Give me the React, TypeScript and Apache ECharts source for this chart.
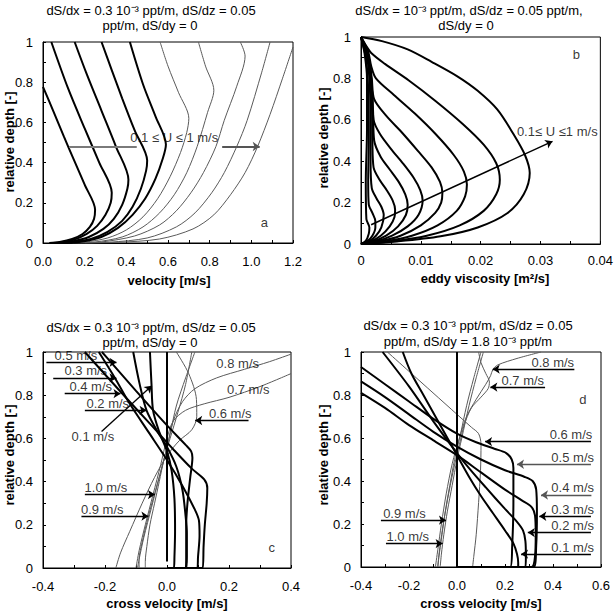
import React, { useEffect, useRef } from 'react';
import * as echarts from 'echarts';

const FONT = '"Liberation Sans", Arial, Helvetica, sans-serif';

// ---------- data ----------
const depthTickLabels = ['0', '0.2', '0.4', '0.6', '0.8', '1'];

// panel a: velocity profiles, U = 0.1 ... 1.0 m/s  ([velocity, relative depth])
const velocityProfiles: number[][][] = [
  [[0.03, 0], [0.08, 0.005], [0.14, 0.02], [0.19, 0.045], [0.225, 0.08], [0.245, 0.12], [0.25, 0.165], [0.2, 0.29], [0.15, 0.41], [0.1, 0.53], [0.05, 0.655], [0, 0.777]],
  [[0.05, 0], [0.09, 0.004], [0.15, 0.017], [0.21, 0.045], [0.26, 0.085], [0.3, 0.14], [0.325, 0.2], [0.33, 0.25], [0.27, 0.4], [0.2, 0.57], [0.12, 0.77], [0.04, 1]],
  [[0.07, 0], [0.14, 0.008], [0.22, 0.03], [0.29, 0.07], [0.34, 0.12], [0.38, 0.19], [0.405, 0.27], [0.41, 0.315], [0.35, 0.48], [0.28, 0.66], [0.21, 0.84], [0.152, 1]],
  [[0.08, 0], [0.14, 0.004], [0.23, 0.02], [0.31, 0.055], [0.38, 0.11], [0.43, 0.18], [0.47, 0.27], [0.495, 0.36], [0.5, 0.41], [0.44, 0.56], [0.38, 0.72], [0.33, 0.86], [0.281, 1]],
  [[0.1, 0], [0.18, 0.006], [0.28, 0.03], [0.36, 0.075], [0.43, 0.14], [0.49, 0.22], [0.54, 0.32], [0.575, 0.42], [0.59, 0.49], [0.54, 0.63], [0.48, 0.79], [0.417, 1]],
  [[0.12, 0], [0.2, 0.004], [0.31, 0.025], [0.4, 0.065], [0.48, 0.13], [0.55, 0.22], [0.61, 0.33], [0.66, 0.45], [0.69, 0.55], [0.7, 0.62], [0.65, 0.75], [0.6, 0.88], [0.562, 1]],
  [[0.14, 0], [0.25, 0.005], [0.38, 0.03], [0.48, 0.08], [0.56, 0.15], [0.63, 0.24], [0.69, 0.35], [0.74, 0.48], [0.79, 0.65], [0.82, 0.76], [0.78, 0.88], [0.746, 1]],
  [[0.16, 0], [0.28, 0.005], [0.44, 0.035], [0.56, 0.09], [0.64, 0.16], [0.71, 0.25], [0.77, 0.35], [0.83, 0.48], [0.87, 0.61], [0.93, 0.78], [0.97, 0.93], [0.947, 1]],
  [[0.18, 0], [0.32, 0.004], [0.5, 0.025], [0.64, 0.08], [0.73, 0.15], [0.81, 0.25], [0.87, 0.35], [0.93, 0.48], [0.98, 0.61], [1.05, 0.85], [1.09, 1]],
  [[0.2, 0], [0.35, 0.003], [0.56, 0.02], [0.72, 0.07], [0.82, 0.14], [0.9, 0.24], [0.97, 0.35], [1.03, 0.48], [1.09, 0.64], [1.15, 0.82], [1.2, 0.975]],
];

// panel b: eddy viscosity profiles ([viscosity m2/s, relative depth])
const viscosityProfiles: number[][][] = [
  [[0, 0], [0.0008, 0.015], [0.0013, 0.05], [0.0014, 0.08], [0.0009, 0.12], [0.0008, 0.3], [0.001, 0.55], [0.001, 0.8], [0.0006, 0.92], [0, 1]],
  [[0, 0], [0.001, 0.012], [0.0019, 0.04], [0.0024, 0.08], [0.0024, 0.11], [0.0019, 0.15], [0.0013, 0.19], [0.0012, 0.3], [0.0013, 0.5], [0.0012, 0.75], [0.0008, 0.9], [0, 1]],
  [[0, 0], [0.0013, 0.012], [0.0025, 0.04], [0.0034, 0.08], [0.0038, 0.14], [0.0034, 0.18], [0.0026, 0.22], [0.0018, 0.27], [0.0016, 0.4], [0.0016, 0.6], [0.0014, 0.8], [0.0009, 0.92], [0, 1]],
  [[0, 0], [0.0016, 0.012], [0.0033, 0.04], [0.0048, 0.085], [0.0056, 0.13], [0.0057, 0.166], [0.0053, 0.21], [0.0043, 0.26], [0.0031, 0.31], [0.0021, 0.37], [0.0019, 0.5], [0.0018, 0.7], [0.0013, 0.88], [0, 1]],
  [[0, 0], [0.002, 0.012], [0.0042, 0.04], [0.0062, 0.085], [0.0075, 0.14], [0.0078, 0.19], [0.0074, 0.24], [0.0063, 0.3], [0.0048, 0.36], [0.0033, 0.42], [0.0022, 0.5], [0.002, 0.65], [0.0015, 0.85], [0, 1]],
  [[0, 0], [0.0025, 0.012], [0.0052, 0.04], [0.0078, 0.085], [0.0096, 0.14], [0.0103, 0.21], [0.0099, 0.26], [0.0088, 0.32], [0.007, 0.39], [0.005, 0.46], [0.0032, 0.53], [0.0021, 0.6], [0.0019, 0.72], [0.0014, 0.87], [0, 1]],
  [[0, 0], [0.003, 0.012], [0.0066, 0.04], [0.01, 0.09], [0.0124, 0.15], [0.0134, 0.2], [0.0136, 0.246], [0.0132, 0.3], [0.0118, 0.37], [0.0095, 0.45], [0.0068, 0.54], [0.0042, 0.62], [0.0022, 0.7], [0.0018, 0.8], [0.0013, 0.9], [0, 1]],
  [[0, 0], [0.004, 0.012], [0.0085, 0.04], [0.0128, 0.09], [0.016, 0.16], [0.0174, 0.23], [0.0177, 0.287], [0.0172, 0.35], [0.0155, 0.43], [0.0125, 0.53], [0.009, 0.63], [0.0055, 0.72], [0.0025, 0.8], [0.0017, 0.86], [0.0012, 0.93], [0, 1]],
  [[0, 0], [0.005, 0.012], [0.011, 0.04], [0.0165, 0.09], [0.0205, 0.16], [0.0226, 0.24], [0.0232, 0.31], [0.0226, 0.39], [0.0205, 0.48], [0.017, 0.58], [0.0125, 0.69], [0.008, 0.79], [0.004, 0.87], [0.0018, 0.92], [0.0008, 0.96], [0, 1]],
  [[0, 0], [0.006, 0.012], [0.0133, 0.037], [0.0195, 0.08], [0.0245, 0.15], [0.0272, 0.24], [0.0282, 0.343], [0.0274, 0.43], [0.0255, 0.53], [0.0228, 0.649], [0.0195, 0.74], [0.0161, 0.81], [0.0118, 0.88], [0.0078, 0.94], [0.0035, 0.98], [0, 1]],
];

// panel c: cross velocity, dS/dy = 0
const crossThickC: number[][][] = [
  [[0, 0], [0.022, 0], [0.024, 0.05], [0.026, 0.17], [0.024, 0.32], [0.015, 0.45], [0, 0.54], [-0.025, 0.63], [-0.045, 0.73], [-0.05, 0.85], [-0.055, 1]],
  [[0, 0], [0.062, 0], [0.064, 0.05], [0.064, 0.16], [0.06, 0.24], [0.05, 0.36], [0.03, 0.47], [0, 0.56], [-0.03, 0.63], [-0.066, 0.73], [-0.088, 0.85], [-0.109, 1]],
  [[0, 0], [0.06, 0], [0.062, 0.05], [0.062, 0.2], [0.066, 0.3], [0.075, 0.42], [0.082, 0.51], [0.078, 0.54], [0.06, 0.57], [0, 0.66], [-0.1, 0.82], [-0.179, 0.95], [-0.21, 1]],
  [[0, 0], [0.098, 0], [0.1, 0.05], [0.105, 0.15], [0.103, 0.22], [0.09, 0.27], [0.05, 0.38], [0, 0.5], [-0.06, 0.63], [-0.12, 0.76], [-0.168, 0.88], [-0.22, 1]],
  [[0, 0], [0.115, 0], [0.118, 0.1], [0.122, 0.2], [0.128, 0.3], [0.13, 0.37], [0.12, 0.41], [0.08, 0.46], [0.02, 0.55], [-0.05, 0.66], [-0.146, 0.81], [-0.265, 1]],
];
const crossThinC: number[][][] = [
  [[-0.165, 0], [-0.15, 0.07], [-0.12, 0.17], [-0.08, 0.3], [-0.04, 0.42], [0, 0.52], [0.04, 0.59], [0.08, 0.64], [0.096, 0.7], [0.095, 0.78], [0.07, 0.9], [0.03, 1]],
  [[-0.1, 0], [-0.09, 0.08], [-0.07, 0.2], [-0.045, 0.34], [-0.02, 0.48], [0, 0.6], [0.02, 0.68], [0.06, 0.73], [0.12, 0.76], [0.2, 0.79], [0.3, 0.84], [0.4, 0.9]],
  [[-0.095, 0], [-0.09, 0.04], [-0.075, 0.14], [-0.05, 0.28], [-0.025, 0.42], [0, 0.56], [0.02, 0.68], [0.05, 0.77], [0.09, 0.83], [0.16, 0.88], [0.25, 0.92], [0.33, 0.955], [0.4, 0.99]],
  [[-0.09, 0], [-0.09, 0.04], [-0.08, 0.12], [-0.06, 0.24], [-0.035, 0.37], [-0.01, 0.5], [0.01, 0.62], [0.03, 0.75], [0.06, 0.88], [0.09, 1]],
  [[-0.07, 0], [-0.07, 0.03], [-0.065, 0.1], [-0.055, 0.2], [-0.04, 0.3], [-0.025, 0.4], [-0.01, 0.5], [0.01, 0.6], [0.035, 0.72], [0.06, 0.85], [0.08, 1]],
];

// panel d: cross velocity, dS/dy = 1.8e-3
const crossThickD: number[][][] = [
  [[0, 0], [0.255, 0], [0.255, 0.02], [0.25, 0.06], [0.235, 0.11], [0.2, 0.17], [0.15, 0.25], [0.1, 0.33], [0.05, 0.42], [0, 0.52], [-0.04, 0.6], [-0.09, 0.7], [-0.14, 0.8], [-0.19, 0.9], [-0.226, 1]],
  [[0, 0], [0.285, 0], [0.287, 0.05], [0.285, 0.12], [0.275, 0.17], [0.25, 0.21], [0.2, 0.27], [0.12, 0.37], [0.05, 0.46], [0, 0.53], [-0.1, 0.68], [-0.2, 0.84], [-0.31, 1]],
  [[0, 0], [0.31, 0], [0.325, 0.05], [0.328, 0.15], [0.325, 0.24], [0.31, 0.28], [0.27, 0.31], [0.2, 0.36], [0.1, 0.44], [0, 0.52], [-0.1, 0.59], [-0.2, 0.66], [-0.3, 0.74], [-0.4, 0.81]],
  [[0, 0], [0.32, 0], [0.33, 0.1], [0.333, 0.25], [0.33, 0.36], [0.315, 0.4], [0.28, 0.42], [0.2, 0.45], [0.1, 0.5], [0, 0.56], [-0.1, 0.63], [-0.2, 0.71], [-0.3, 0.79], [-0.4, 0.863]],
  [[0, 0], [0.222, 0], [0.23, 0.1], [0.235, 0.3], [0.235, 0.46], [0.228, 0.5], [0.205, 0.53], [0.156, 0.55], [0.08, 0.58], [0, 0.62], [-0.1, 0.69], [-0.2, 0.77], [-0.3, 0.85], [-0.4, 0.93]],
];
const crossThinD: number[][][] = [
  [[0.065, 0], [0.07, 0.05], [0.08, 0.15], [0.09, 0.3], [0.098, 0.45], [0.1, 0.57], [0.09, 0.62], [0.06, 0.65], [0, 0.71], [-0.1, 0.81], [-0.2, 0.91], [-0.29, 1]],
  [[-0.08, 0], [-0.075, 0.06], [-0.06, 0.18], [-0.04, 0.31], [-0.015, 0.45], [0.01, 0.57], [0.03, 0.66], [0.06, 0.74], [0.1, 0.79], [0.13, 0.83], [0.135, 0.86], [0.12, 0.9], [0.1, 0.95], [0.09, 1]],
  [[-0.09, 0], [-0.08, 0.08], [-0.065, 0.2], [-0.045, 0.34], [-0.02, 0.48], [0.01, 0.6], [0.04, 0.7], [0.08, 0.78], [0.12, 0.85], [0.14, 0.89], [0.15, 0.92], [0.17, 0.94], [0.25, 0.97], [0.35, 1]],
  [[-0.07, 0], [-0.065, 0.06], [-0.055, 0.15], [-0.04, 0.26], [-0.02, 0.38], [0, 0.5], [0.02, 0.6], [0.05, 0.75], [0.08, 0.88], [0.11, 1]],
  [[-0.08, 0], [-0.075, 0.05], [-0.065, 0.13], [-0.05, 0.25], [-0.03, 0.38], [-0.01, 0.5], [0.015, 0.62], [0.04, 0.75], [0.07, 0.88], [0.1, 1]],
];

const zeroLineC = [[0, 0.03], [0, 1]];
const zeroLineD = [[0, 0], [0, 1]];

// ---------- annotations (layout) ----------
type Note = { text: string; x: number; y: number; under?: boolean };
type Arrow = { x1: number; y1: number; x2: number; y2: number; head?: boolean; color?: string; width?: number };

const notesA: Note[] = [
  { text: '0.1 ≤ U ≤ 1 m/s', x: 0.63, y: 0.526 },
  { text: 'a', x: 1.063, y: 0.1 },
];
const arrowsA: Arrow[] = [
  { x1: 0.125, y1: 0.48, x2: 0.45, y2: 0.48, head: false, color: '#7a7a7a', width: 2 },
  { x1: 0.86, y1: 0.48, x2: 1.04, y2: 0.48, head: true, color: '#555', width: 2 },
];
const notesB: Note[] = [
  { text: '0.1≤ U ≤1 m/s', x: 0.0328, y: 0.544 },
  { text: 'b', x: 0.036, y: 0.915 },
];
const arrowsB: Arrow[] = [{ x1: 0.0017, y1: 0.093, x2: 0.032, y2: 0.496, head: true, width: 1.5 }];

const notesC: Note[] = [
  { text: '0.5 m/s', x: -0.294, y: 0.952, under: true },
  { text: '0.3 m/s', x: -0.262, y: 0.88, under: true },
  { text: '0.4 m/s', x: -0.246, y: 0.807, under: true },
  { text: '0.2 m/s', x: -0.191, y: 0.73, under: true },
  { text: '0.1 m/s', x: -0.239, y: 0.609 },
  { text: '0.6 m/s', x: 0.204, y: 0.683, under: true },
  { text: '0.7 m/s', x: 0.262, y: 0.826 },
  { text: '0.8 m/s', x: 0.228, y: 0.949 },
  { text: '1.0 m/s', x: -0.197, y: 0.34, under: true },
  { text: '0.9 m/s', x: -0.209, y: 0.24, under: true },
  { text: 'c', x: 0.338, y: 0.093 },
];
const arrowsC: Arrow[] = [
  { x1: -0.389, y1: 0.952, x2: -0.163, y2: 0.952 },
  { x1: -0.367, y1: 0.88, x2: -0.163, y2: 0.88 },
  { x1: -0.33, y1: 0.807, x2: -0.15, y2: 0.807 },
  { x1: -0.265, y1: 0.73, x2: -0.066, y2: 0.73 },
  { x1: -0.211, y1: 0.632, x2: -0.049, y2: 0.844 },
  { x1: 0.263, y1: 0.683, x2: 0.091, y2: 0.683 },
  { x1: -0.265, y1: 0.34, x2: -0.039, y2: 0.34 },
  { x1: -0.276, y1: 0.24, x2: -0.06, y2: 0.24 },
];
const notesD: Note[] = [
  { text: '0.8 m/s', x: 0.399, y: 0.92, under: true },
  { text: '0.7 m/s', x: 0.274, y: 0.837, under: true },
  { text: '0.6 m/s', x: 0.475, y: 0.583, under: true },
  { text: '0.5 m/s', x: 0.482, y: 0.478, under: true },
  { text: '0.4 m/s', x: 0.482, y: 0.335, under: true },
  { text: '0.3 m/s', x: 0.482, y: 0.236, under: true },
  { text: '0.2 m/s', x: 0.482, y: 0.16, under: true },
  { text: '0.1 m/s', x: 0.482, y: 0.06, under: true },
  { text: '0.9 m/s', x: -0.219, y: 0.218, under: true },
  { text: '1.0 m/s', x: -0.205, y: 0.109, under: true },
  { text: 'd', x: 0.524, y: 0.78 },
];
const arrowsD: Arrow[] = [
  { x1: 0.489, y1: 0.92, x2: 0.149, y2: 0.92 },
  { x1: 0.367, y1: 0.837, x2: 0.139, y2: 0.837 },
  { x1: 0.558, y1: 0.583, x2: 0.117, y2: 0.583 },
  { x1: 0.558, y1: 0.478, x2: 0.25, y2: 0.478, color: '#555' },
  { x1: 0.56, y1: 0.335, x2: 0.35, y2: 0.335, color: '#555' },
  { x1: 0.558, y1: 0.236, x2: 0.343, y2: 0.236 },
  { x1: 0.558, y1: 0.16, x2: 0.295, y2: 0.16 },
  { x1: 0.558, y1: 0.06, x2: 0.267, y2: 0.06 },
  { x1: -0.317, y1: 0.218, x2: -0.046, y2: 0.218 },
  { x1: -0.296, y1: 0.109, x2: -0.06, y2: 0.109 },
];

// ---------- option builders ----------
const grids = [
  { left: 43, top: 42, width: 250, height: 201 },
  { left: 361, top: 37, width: 240, height: 207 },
  { left: 43, top: 352, width: 248, height: 216 },
  { left: 361, top: 352, width: 240, height: 215 },
];

const axisCommon = {
  type: 'value',
  axisLine: { show: true, onZero: false, lineStyle: { color: '#000', width: 1 } },
  axisTick: { show: true, inside: true, length: 3, lineStyle: { color: '#000' } },
  minorTick: { show: true, splitNumber: 2, length: 3, lineStyle: { color: '#000' } },
  splitLine: { show: false },
  minorSplitLine: { show: false },
};

function xAxis(gi: number, min: number, max: number, interval: number, fmt: (v: number) => string, margin = 12) {
  return {
    ...axisCommon,
    gridIndex: gi,
    min,
    max,
    interval,
    axisLabel: { color: '#000', fontSize: 13, fontFamily: FONT, margin, formatter: fmt, showMinLabel: true, showMaxLabel: true },
  };
}
function yAxis(gi: number) {
  return {
    ...axisCommon,
    gridIndex: gi,
    min: 0,
    max: 1,
    interval: 0.2,
    axisLabel: {
      color: '#000',
      fontSize: 13,
      fontFamily: FONT,
      margin: 10,
      formatter: (v: number) => depthTickLabels[Math.round(v / 0.2)] ?? '',
      showMinLabel: true,
      showMaxLabel: true,
    },
  };
}

function curves(gi: number, list: number[][][], thick: boolean | ((i: number) => boolean)) {
  return list.map((pts, i) => {
    const t = typeof thick === 'function' ? thick(i) : thick;
    return {
      type: 'line',
      xAxisIndex: gi,
      yAxisIndex: gi,
      data: pts,
      symbol: 'none',
      showSymbol: false,
      smooth: 0.3,
      silent: true,
      z: t ? 3 : 2,
      lineStyle: { color: t ? '#000' : '#5a5a5a', width: t ? 2 : 1 },
    };
  });
}

function annotations(gi: number, notes: Note[], arrows: Arrow[]) {
  return {
    type: 'scatter',
    xAxisIndex: gi,
    yAxisIndex: gi,
    symbolSize: 1,
    silent: true,
    z: 6,
    itemStyle: { color: 'rgba(0,0,0,0)' },
    data: notes.map((n) => ({
      value: [n.x, n.y],
      label: {
        show: true,
        formatter: n.text,
        position: 'inside',
        offset: [0, n.under ? -7 : 0],
        color: '#000',
        fontSize: 13,
        fontFamily: FONT,
      },
    })),
    markLine: {
      silent: true,
      animation: false,
      symbol: ['none', 'arrow'],
      symbolSize: 7,
      precision: 4,
      label: { show: false },
      emphasis: { disabled: true },
      lineStyle: { color: '#000', width: 1.3, type: 'solid' },
      data: arrows.map((a) => [
        { coord: [a.x1, a.y1], symbol: 'none', lineStyle: { color: a.color || '#000', width: a.width || 1.3, type: 'solid' } },
        { coord: [a.x2, a.y2], symbol: a.head === false ? 'none' : 'arrow' },
      ]),
    },
  };
}

function vline(gi: number, pts: number[][]) {
  return {
    type: 'line',
    xAxisIndex: gi,
    yAxisIndex: gi,
    data: pts,
    symbol: 'none',
    silent: true,
    z: 4,
    lineStyle: { color: '#000', width: 2 },
  };
}

function txt(text: string, x: number, y: number, opts: any = {}) {
  return {
    type: 'text',
    x,
    y,
    rotation: opts.rotation || 0,
    silent: true,
    z: 10,
    style: {
      text,
      x: 0,
      y: 0,
      fill: '#000',
      font: `${opts.bold ? 'bold ' : ''}${opts.size || 13}px ${FONT}`,
      textAlign: 'center',
      textVerticalAlign: 'middle',
      align: 'center',
      verticalAlign: 'middle',
    },
  };
}

const option: any = {
  animation: false,
  backgroundColor: '#fff',
  grid: grids.map((g) => ({ ...g, show: true, borderColor: '#000', borderWidth: 1, backgroundColor: 'transparent', containLabel: false })),
  xAxis: [
    xAxis(0, 0, 1.2, 0.2, (v) => v.toFixed(1)),
    xAxis(1, 0, 0.04, 0.01, (v) => (v === 0 ? '0' : v.toFixed(2)), 10),
    xAxis(2, -0.4, 0.4, 0.2, (v) => v.toFixed(1)),
    xAxis(3, -0.4, 0.6, 0.2, (v) => v.toFixed(1)),
  ],
  yAxis: [yAxis(0), yAxis(1), yAxis(2), yAxis(3)],
  series: [
    ...curves(0, velocityProfiles, (i) => i < 5),
    annotations(0, notesA, arrowsA),
    ...curves(1, viscosityProfiles, true),
    annotations(1, notesB, arrowsB),
    ...curves(2, crossThinC, false),
    ...curves(2, crossThickC, true),
    vline(2, zeroLineC),
    annotations(2, notesC, arrowsC),
    ...curves(3, crossThinD, false),
    ...curves(3, crossThickD, true),
    vline(3, zeroLineD),
    annotations(3, notesD, arrowsD),
  ],
  graphic: [
    txt('dS/dx = 0.3 10⁻³ ppt/m, dS/dz = 0.05', 151, 10),
    txt('ppt/m, dS/dy = 0', 150, 25),
    txt('dS/dx = 10⁻³ ppt/m, dS/dz = 0.05 ppt/m,', 469, 10),
    txt('dS/dy = 0', 466, 25),
    txt('dS/dx = 0.3 10⁻³ ppt/m, dS/dz = 0.05', 151, 327),
    txt('ppt/m, dS/dy = 0', 150, 342),
    txt('dS/dx = 0.3 10⁻³ ppt/m, dS/dz = 0.05', 468, 325),
    txt('ppt/m, dS/dy = 1.8 10⁻³ ppt/m', 468, 341),
    txt('velocity [m/s]', 169, 280, { bold: true }),
    txt('eddy viscosity [m²/s]', 485, 278, { bold: true }),
    txt('cross velocity [m/s]', 167, 603, { bold: true }),
    txt('cross velocity [m/s]', 481, 603, { bold: true }),
    txt('relative depth [-]', 9, 142, { bold: true, rotation: Math.PI / 2 }),
    txt('relative depth [-]', 323, 138, { bold: true, rotation: Math.PI / 2 }),
    txt('relative depth [-]', 9, 455, { bold: true, rotation: Math.PI / 2 }),
    txt('relative depth [-]', 323, 455, { bold: true, rotation: Math.PI / 2 }),
  ],
};

export default function App() {
  const ref = useRef<HTMLDivElement>(null);
  useEffect(() => {
    if (!ref.current) return;
    const chart = echarts.init(ref.current, null, { renderer: 'svg' });
    chart.setOption(option);
    return () => chart.dispose();
  }, []);
  return (
    <div
      ref={ref}
      style={{ position: 'absolute', left: 0, top: 0, width: 616, height: 613, background: '#fff' }}
    />
  );
}
